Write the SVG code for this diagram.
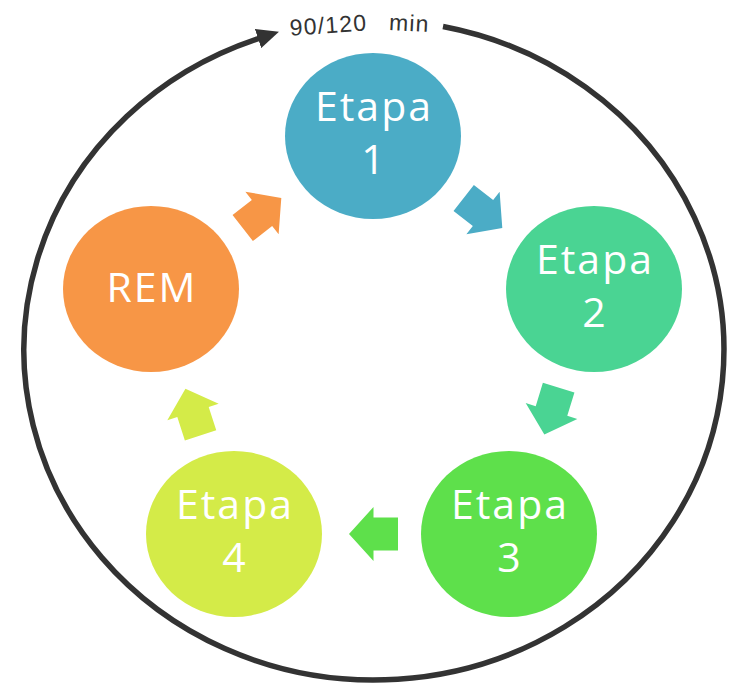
<svg xmlns="http://www.w3.org/2000/svg" width="735" height="685" viewBox="0 0 735 685">
  <defs>
    <style>
      .lbl { font-family: "Open Sans", "Noto Sans", "Liberation Sans", sans-serif; font-size: 41px; fill: #ffffff; text-anchor: middle; letter-spacing: 2px; }
      .time { font-family: "Liberation Sans", Arial, sans-serif; font-size: 23px; fill: #333333; letter-spacing: 1.2px; text-anchor: middle; }
      .ring { fill: none; stroke: #333333; stroke-width: 5.5; }
    </style>
    <marker id="head" markerUnits="userSpaceOnUse" viewBox="0 0 22 20" markerWidth="22" markerHeight="20" refX="1" refY="10" orient="auto">
      <path d="M0,0 L22,10 L0,20 Z" fill="#333333"/>
    </marker>
    <path id="blk" d="M -24.5,-16.5 L 0,-16.5 L 0,-27 L 24.5,0 L 0,27 L 0,16.5 L -24.5,16.5 Z"/>
  </defs>
  <rect width="735" height="685" fill="#ffffff"/>

  <g id="cycle">
    <path class="ring" d="M 443 26.5 A 350 330 0 1 1 259 38.3" marker-end="url(#head)"/>
    <text class="time" transform="translate(329,33) rotate(-4)">90/120</text>
    <text class="time" transform="translate(409,31) rotate(3)">min</text>
  </g>

  <g id="connectors">
    <use href="#blk" fill="#4BACC6" transform="translate(483,213) rotate(38)"/>
    <use href="#blk" fill="#4AD493" transform="translate(551.5,411) rotate(107)"/>
    <use href="#blk" fill="#5EE04B" transform="translate(373.5,534) rotate(180)"/>
    <use href="#blk" fill="#D4EB48" transform="translate(193,412) rotate(-108)"/>
    <use href="#blk" fill="#F79646" transform="translate(262,213) rotate(-38)"/>
  </g>

  <g id="etapa1">
    <ellipse cx="373" cy="136" rx="88" ry="83" fill="#4BACC6"/>
    <text class="lbl" x="374" y="121">Etapa</text>
    <text class="lbl" x="374" y="174">1</text>
  </g>
  <g id="etapa2">
    <ellipse cx="594" cy="289" rx="88" ry="83" fill="#4AD493"/>
    <text class="lbl" x="595" y="274">Etapa</text>
    <text class="lbl" x="595" y="327">2</text>
  </g>
  <g id="etapa3">
    <ellipse cx="509" cy="534" rx="88" ry="83" fill="#5EE04B"/>
    <text class="lbl" x="510" y="519">Etapa</text>
    <text class="lbl" x="510" y="572">3</text>
  </g>
  <g id="etapa4">
    <ellipse cx="234" cy="534" rx="88" ry="83" fill="#D4EB48"/>
    <text class="lbl" x="235" y="519">Etapa</text>
    <text class="lbl" x="235" y="572">4</text>
  </g>
  <g id="rem">
    <ellipse cx="151" cy="289" rx="88" ry="83" fill="#F79646"/>
    <text class="lbl" x="152" y="302" letter-spacing="3">REM</text>
  </g>
</svg>
